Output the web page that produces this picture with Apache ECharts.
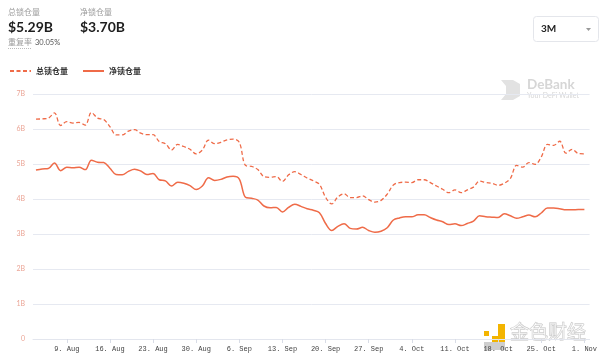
<!DOCTYPE html>
<html>
<head>
<meta charset="utf-8">
<script src="https://cdn.jsdelivr.net/npm/echarts@6/dist/echarts.min.js"></script>
<style>
html,body{margin:0;padding:0;background:#fff;}
#c{width:600px;height:360px;}
</style>
</head>
<body>
<div id="c"></div>
<script>
// Day offsets are counted from Mon 2 Aug; data runs 4 Aug .. 1 Nov (daily)
const startDay = 2;
const totalLocked = [
  6.28, 6.29, 6.31, 6.46, 6.10, 6.21, 6.17, 6.19, 6.11, 6.47,
  6.31, 6.27, 6.07, 5.83, 5.83, 5.94, 5.98, 5.88, 5.84, 5.84,
  5.64, 5.58, 5.40, 5.56, 5.50, 5.42, 5.29, 5.40, 5.68, 5.58,
  5.62, 5.69, 5.71, 5.62, 4.96, 4.93, 4.84, 4.64, 4.62, 4.64,
  4.50, 4.69, 4.78, 4.70, 4.60, 4.52, 4.42, 4.05, 3.86, 4.06,
  4.15, 4.04, 4.04, 4.09, 3.98, 3.91, 3.96, 4.14, 4.40, 4.47,
  4.48, 4.47, 4.55, 4.55, 4.47, 4.37, 4.28, 4.18, 4.26, 4.18,
  4.26, 4.34, 4.51, 4.47, 4.45, 4.39, 4.45, 4.59, 4.96, 4.91,
  5.04, 4.99, 5.20, 5.56, 5.53, 5.65, 5.31, 5.42, 5.30, 5.29
];
const netLocked = [
  4.83, 4.86, 4.87, 5.03, 4.81, 4.91, 4.89, 4.91, 4.84, 5.11,
  5.05, 5.04, 4.88, 4.70, 4.69, 4.79, 4.85, 4.80, 4.70, 4.73,
  4.55, 4.52, 4.37, 4.48, 4.45, 4.38, 4.27, 4.37, 4.61, 4.53,
  4.56, 4.63, 4.65, 4.57, 4.05, 4.02, 3.97, 3.80, 3.75, 3.76,
  3.63, 3.76, 3.85, 3.79, 3.72, 3.68, 3.61, 3.30, 3.10, 3.22,
  3.29, 3.16, 3.14, 3.19, 3.10, 3.05, 3.08, 3.18, 3.40, 3.46,
  3.49, 3.49, 3.55, 3.55, 3.47, 3.40, 3.35, 3.27, 3.29, 3.24,
  3.30, 3.37, 3.52, 3.49, 3.48, 3.47, 3.58, 3.52, 3.45, 3.49,
  3.54, 3.49, 3.60, 3.74, 3.74, 3.72, 3.69, 3.69, 3.70, 3.70
];
const tickDays = [7, 14, 21, 28, 35, 42, 49, 56, 63, 70, 77, 84, 91];
const tickLabels = ['9. Aug','16. Aug','23. Aug','30. Aug','6. Sep','13. Sep','20. Sep','27. Sep','4. Oct','11. Oct','18. Oct','25. Oct','1. Nov'];
const seriesNames = ['总锁仓量', '净锁仓量'];

const lineColor = '#ef6b48';
const toPairs = arr => arr.map((v, i) => [startDay + i, v]);

const chart = echarts.init(document.getElementById('c'), null, {renderer: 'canvas'});
chart.setOption({
  animation: false,
  backgroundColor: '#fff',
  grid: {left: 33, right: 7, top: 94, bottom: 21, containLabel: false},
  legend: {
    left: 9, top: 67, padding: 0,
    itemWidth: 21, itemHeight: 8, itemGap: 14,
    itemStyle: {opacity: 0},
    textStyle: {fontSize: 8, color: '#333', fontWeight: 'bold', fontFamily: 'Noto Sans CJK SC'},
    data: seriesNames
  },
  xAxis: {
    type: 'value',
    min: 1.52, max: 91.84,
    axisLine: {show: true, lineStyle: {color: '#e3e6ee', width: 1}},
    axisTick: {show: true, length: 4, lineStyle: {color: '#d8dce6'}, customValues: tickDays},
    splitLine: {show: false},
    axisLabel: {
      customValues: tickDays,
      fontSize: 7, color: '#444', fontFamily: 'Liberation Mono', margin: 7,
      formatter: v => tickLabels[tickDays.indexOf(Math.round(v))] || ''
    }
  },
  yAxis: {
    type: 'value', min: 0, max: 7, interval: 1,
    axisLine: {show: false}, axisTick: {show: false},
    splitLine: {lineStyle: {color: '#e6e9f1', width: 1}},
    axisLabel: {fontSize: 7, color: '#eba596', margin: 8, fontFamily: 'Lato',
      formatter: v => v === 0 ? '0' : v + 'B'}
  },
  series: [
    {name: seriesNames[0], type: 'line', data: toPairs(totalLocked), smooth: 0.35,
     symbol: 'none', lineStyle: {color: lineColor, width: 1.3, type: [4, 2.5]}, itemStyle: {color: lineColor}},
    {name: seriesNames[1], type: 'line', data: toPairs(netLocked), smooth: 0.35,
     symbol: 'none', lineStyle: {color: lineColor, width: 1.5}, itemStyle: {color: lineColor}}
  ],
  graphic: [
    {type: 'text', left: 8, top: 8, style: {text: '总锁仓量', fontSize: 8, fill: '#9a9a9a', fontFamily: 'Noto Sans CJK SC'}},
    {type: 'text', left: 8, top: 20, style: {text: '$5.29B', fontSize: 14, fontWeight: 'bold', fill: '#1e1e1e', fontFamily: 'Lato'}},
    {type: 'text', left: 80, top: 8, style: {text: '净锁仓量', fontSize: 8, fill: '#9a9a9a', fontFamily: 'Noto Sans CJK SC'}},
    {type: 'text', left: 80, top: 20, style: {text: '$3.70B', fontSize: 14, fontWeight: 'bold', fill: '#1e1e1e', fontFamily: 'Lato'}},
    {type: 'text', left: 8, top: 38, style: {text: '重复率', fontSize: 8, fill: '#9a9a9a', fontFamily: 'Noto Sans CJK SC'}},
    {type: 'line', shape: {x1: 8, y1: 48.5, x2: 32, y2: 48.5}, style: {stroke: '#bbb', lineWidth: 1, lineDash: [1, 1]}},
    {type: 'text', left: 35, top: 39, style: {text: '30.05%', fontSize: 7.5, fill: '#555', fontFamily: 'Lato'}},
    // 3M dropdown
    {type: 'rect', shape: {x: 533.5, y: 16.5, width: 65, height: 25, r: 3}, style: {fill: '#fff', stroke: '#e4e6eb', lineWidth: 1}},
    {type: 'text', left: 541, top: 24, style: {text: '3M', fontSize: 10, fontWeight: 'bold', fill: '#222', fontFamily: 'Lato'}},
    {type: 'polygon', shape: {points: [[586, 28], [591, 28], [588.5, 31]]}, style: {fill: '#999'}},
    // DeBank watermark
    {type: 'group', children: [
      {type: 'polygon', shape: {points: [[501, 80], [513, 80], [520, 84], [520, 96], [513, 100], [501, 100], [506, 94], [506, 86]]}, style: {fill: '#e2e2e2'}},
      {type: 'text', x: 527, y: 78, style: {text: 'DeBank', fontSize: 13.5, fontWeight: 'bold', fill: '#d6d6d6', fontFamily: 'Lato'}},
      {type: 'text', x: 527, y: 92, style: {text: 'Your DeFi Wallet', fontSize: 7, fill: '#d6d6d6', fontFamily: 'Lato'}}
    ]},
    // Jinse watermark
    {type: 'group', children: [
      {type: 'rect', shape: {x: 484, y: 331, width: 5, height: 5}, style: {fill: '#f3b400'}},
      {type: 'rect', shape: {x: 492, y: 324, width: 13, height: 18}, style: {fill: '#f3b400'}},
      {type: 'rect', shape: {x: 492, y: 324, width: 6, height: 12}, style: {fill: '#fff'}},
      {type: 'rect', shape: {x: 484, y: 342, width: 21, height: 8}, style: {fill: 'rgba(190,190,190,0.75)'}},
      {type: 'text', x: 510, y: 322, style: {text: '金色财经', fontSize: 19, fill: 'rgba(255,255,255,0.5)', stroke: '#c4c4c4', lineWidth: 0.8, fontFamily: 'Noto Sans CJK SC'}}
    ]}
  ]
});
</script>
</body>
</html>
